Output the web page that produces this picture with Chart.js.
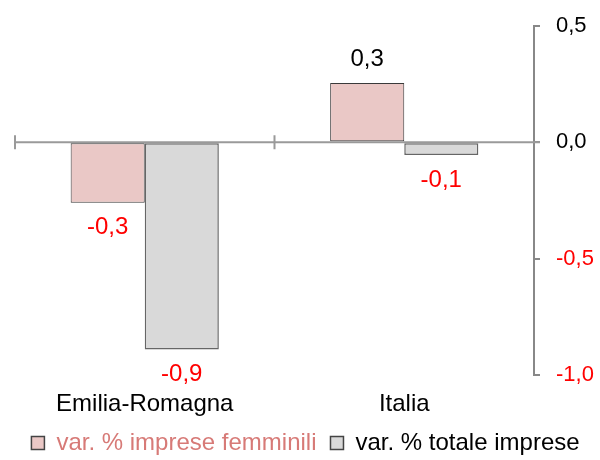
<!DOCTYPE html>
<html>
<head>
<meta charset="utf-8">
<script src="https://cdn.jsdelivr.net/npm/chart.js@4/dist/chart.umd.min.js"></script>
<style>
  html, body { margin: 0; padding: 0; background: #fff; }
  #wrap { width: 600px; height: 460px; }
</style>
</head>
<body>
<div id="wrap"><canvas id="chart"></canvas></div>
<script>
const categories = ['Emilia-Romagna', 'Italia'];
const femminili = [-0.26, 0.255];
const totale = [-0.89, -0.055];
const yTicks = [0.5, 0.0, -0.5, -1.0];

const FONT = 'Liberation Sans, Arial, sans-serif';
const fmt = v => v.toFixed(1).replace('.', ',');

// zero line + category separators, drawn at y = 0
const zeroAxis = {
  id: 'zeroAxis',
  beforeDatasetsDraw(chart) {
    const { ctx, scales: { x, y } } = chart;
    const y0 = y.getPixelForValue(0);
    ctx.save();
    ctx.strokeStyle = '#9a9a9a';
    ctx.lineWidth = 2;
    ctx.beginPath();
    ctx.moveTo(x.left - 1, y0);
    ctx.lineTo(x.right + 6, y0);
    const n = categories.length;
    for (let i = 0; i < n; i++) {
      const bx = x.left + i * x.width / n;
      ctx.moveTo(bx, y0 - 7);
      ctx.lineTo(bx, y0 + 7);
    }
    ctx.stroke();
    ctx.restore();
  }
};

// value labels: black above positive bars, red below negative ones
const valueLabels = {
  id: 'valueLabels',
  afterDatasetsDraw(chart) {
    const { ctx } = chart;
    ctx.save();
    ctx.font = '24px ' + FONT;
    ctx.textAlign = 'center';
    chart.data.datasets.forEach((ds, di) => {
      chart.getDatasetMeta(di).data.forEach((bar, i) => {
        const v = ds.data[i];
        if (v >= 0) {
          ctx.fillStyle = '#000';
          ctx.textBaseline = 'alphabetic';
          ctx.fillText(fmt(v), bar.x, bar.y - 17);
        } else {
          ctx.fillStyle = '#ff0000';
          ctx.textBaseline = 'top';
          ctx.fillText(fmt(v), bar.x, bar.y + 13);
        }
      });
    });
    ctx.restore();
  }
};

new Chart(document.getElementById('chart'), {
  type: 'bar',
  data: {
    labels: categories,
    datasets: [
      {
        label: 'var. % imprese femminili',
        data: femminili,
        backgroundColor: '#eac8c6',
        borderColor: '#3a3a3a',
        borderWidth: 1,
        borderSkipped: false,
        categoryPercentage: 0.571,
        barPercentage: 1
      },
      {
        label: 'var. % totale imprese',
        data: totale,
        backgroundColor: '#d9d9d9',
        borderColor: '#666',
        borderWidth: 1.5,
        borderSkipped: false,
        categoryPercentage: 0.571,
        barPercentage: 1
      }
    ]
  },
  options: {
    responsive: true,
    maintainAspectRatio: false,
    animation: false,
    layout: { padding: { left: 15, right: 4, top: 8, bottom: -5 } },
    plugins: {
      tooltip: { enabled: false },
      legend: {
        position: 'bottom',
        labels: {
          font: { family: FONT, size: 24 },
          boxWidth: 13,
          boxHeight: 13,
          padding: 14,
          generateLabels(chart) {
            const items = Chart.defaults.plugins.legend.labels.generateLabels(chart);
            items.forEach((it, i) => {
              it.fontColor = i === 0 ? '#d77a77' : '#000';
              it.lineWidth = 1.5;
              it.strokeStyle = '#444';
            });
            return items;
          }
        }
      }
    },
    scales: {
      x: {
        grid: { display: false, drawTicks: false },
        border: { display: false },
        afterFit(scale) {
          scale.height = 42;
        },
        ticks: {
          padding: 15,
          color: '#000',
          font: { family: FONT, size: 24 }
        }
      },
      y: {
        position: 'right',
        min: -1,
        max: 0.5,
        afterBuildTicks(scale) {
          scale.ticks = yTicks.map(v => ({ value: v }));
        },
        afterFit(scale) {
          scale.width = 62;
        },
        grid: { drawOnChartArea: false, drawTicks: true, tickLength: 6, color: '#888', lineWidth: 2 },
        border: { display: true, color: '#888', width: 2 },
        ticks: {
          padding: 16,
          font: { family: FONT, size: 22, lineHeight: 0.9 },
          color: ctx => ctx.tick.value < 0 ? '#ff0000' : '#000',
          callback: v => fmt(v)
        }
      }
    }
  },
  plugins: [zeroAxis, valueLabels]
});
</script>
</body>
</html>
